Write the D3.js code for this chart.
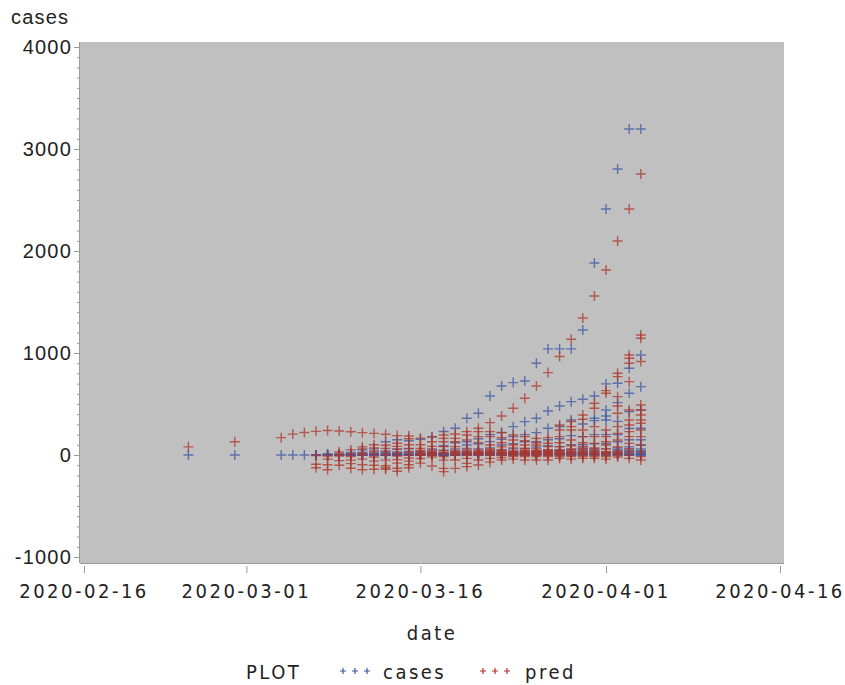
<!DOCTYPE html>
<html>
<head>
<meta charset="utf-8">
<script src="https://cdn.jsdelivr.net/npm/d3@7"></script>
<style>
body { margin: 0; background: #fff; }
svg { display: block; }
.ylab { font-family: "Liberation Sans", Arial, sans-serif; font-size: 20px; letter-spacing: 1.2px; fill: #222; }
.nar { font-family: "Liberation Sans Narrow", "DejaVu Sans Condensed", sans-serif; font-size: 20px; letter-spacing: 2.5px; fill: #222; }
</style>
</head>
<body>
<svg id="chart" width="845" height="685"></svg>
<script>
// one list of values per date, cases (blue) and pred (red)
var dates = ["2020-02-25","2020-02-29","2020-03-04","2020-03-05","2020-03-06","2020-03-07","2020-03-08",
  "2020-03-09","2020-03-10","2020-03-11","2020-03-12","2020-03-13","2020-03-14","2020-03-15","2020-03-16",
  "2020-03-17","2020-03-18","2020-03-19","2020-03-20","2020-03-21","2020-03-22","2020-03-23","2020-03-24",
  "2020-03-25","2020-03-26","2020-03-27","2020-03-28","2020-03-29","2020-03-30","2020-03-31","2020-04-01",
  "2020-04-02","2020-04-03","2020-04-04"];

var casesByDate = [
  [0],[0],[0],[0],[0],
  [0,0,0,0],
  [0,5,0,10,0],
  [0,10,0,5,0,0],
  [0,25,0,10,0,5,0],
  [0,50,25,0,10,5,0,0],
  [0,60,30,15,5,0,0,0,10],
  [0,130,40,20,10,5,0,0,0],
  [0,150,60,30,15,5,0,0,0,10],
  [0,140,60,35,20,10,5,0,0,0],
  [0,155,35,15,5,0,0,0,10,20],
  [0,180,60,30,15,5,0,0,10,25,0],
  [0,230,90,45,25,10,5,0,0,15,0],
  [0,262,120,60,30,15,5,0,0,0,20],
  [360,130,98,50,30,15,5,0,0,0,10,20],
  [409,160,108,60,30,15,5,0,0,0,10,25],
  [579,200,131,70,40,20,10,5,0,0,0,15,30],
  [677,220,154,98,50,30,15,5,0,0,0,20,10],
  [710,278,180,110,60,35,20,10,5,0,0,15,25],
  [725,327,200,130,65,40,25,10,5,0,0,15,30,10],
  [899,360,219,130,80,45,25,15,5,0,0,20,10,35],
  [1040,432,262,150,90,50,30,15,5,0,0,20,10,35],
  [1040,481,280,160,82,50,30,15,5,0,0,20,10,40],
  [1040,523,343,190,100,55,30,15,5,0,0,20,10,40],
  [1226,546,304,180,100,60,35,15,5,0,0,20,10,40,70],
  [1882,579,360,337,200,110,60,35,15,5,0,0,20,45],
  [2412,697,441,383,343,200,110,60,30,15,5,0,0,20],
  [2804,703,513,330,200,130,70,40,20,10,5,0,0,30,55],
  [3196,850,605,425,260,150,80,45,20,10,5,0,0,30,60],
  [3196,981,670,441,262,150,98,60,33,15,5,0,0,20,45]
];

var predByDate = [
  [80],[130],[170],[205],[220],
  [232,-5,-90,-125],
  [240,-10,-40,-95,-145],
  [235,30,-10,-55,-100,5],
  [228,50,10,-15,-50,-85,-130],
  [219,80,60,20,0,-40,-95,-145],
  [212,100,70,40,10,-20,-60,-100,-140],
  [203,95,65,30,0,-50,-105,-125,-140],
  [190,115,85,55,20,-10,-45,-80,-130,-160],
  [186,160,100,65,30,0,-30,-60,-95,-125],
  [165,100,65,30,0,-35,-80,15,45,5],
  [175,130,85,50,25,0,-20,-108,10,40,5],
  [196,163,130,82,45,15,-15,-50,-131,-163,25],
  [206,163,130,82,33,0,-49,-131,10,20,45],
  [229,196,147,65,33,10,0,-33,-82,-114,20,40],
  [262,229,180,120,49,25,0,-49,-98,10,35,15],
  [317,229,180,98,60,49,16,0,-33,-70,25,10,40],
  [383,219,170,120,80,49,20,0,-25,-49,30,10,40],
  [458,196,147,98,70,33,20,5,0,-16,-40,40,25],
  [556,180,140,98,65,40,20,5,0,-16,-49,30,15,50],
  [677,163,120,98,65,35,20,5,0,-16,-49,30,15,45],
  [808,170,115,82,50,30,15,5,0,-16,-49,35,20,45],
  [965,294,245,180,120,82,49,16,0,-16,-33,30,10,40],
  [1135,327,278,245,147,90,50,33,15,0,-16,-40,25,60],
  [1343,392,350,245,180,120,82,50,33,15,0,-16,-33,25,60],
  [1559,507,458,278,180,114,70,40,16,0,-16,-33,25,60],
  [1814,631,605,245,180,130,98,60,33,15,0,-16,-40,25],
  [2098,801,768,572,481,409,278,212,147,80,40,16,0,-20,25],
  [2412,981,948,899,719,441,343,294,229,180,114,60,33,0,-33],
  [2755,1177,1145,916,490,441,392,343,311,245,180,98,33,-16,-49]
];

var yTicks = [-1000, 0, 1000, 2000, 3000, 4000];
var xTicks = ["2020-02-16","2020-03-01","2020-03-16","2020-04-01","2020-04-16"];

var parse = d3.timeParse("%Y-%m-%d");
var fmt = d3.timeFormat("%Y-%m-%d");

var blue = "#3b55a4", red = "#ad362a";
var svg = d3.select("#chart");

var plot = {left: 80, right: 784, top: 42, bottom: 563};

var x = d3.scaleTime()
    .domain([parse("2020-02-16"), parse("2020-04-16")])
    .range([84, 780]);
var y = d3.scaleLinear().domain([-1000, 4000]).range([557, 47]);

svg.append("rect")
    .attr("x", plot.left).attr("y", plot.top)
    .attr("width", plot.right - plot.left).attr("height", plot.bottom - plot.top)
    .attr("fill", "#c0c0c0");

// y axis with minor ticks
var minor = d3.range(-1000, 4001, 100);
svg.append("g").selectAll("line").data(minor).enter().append("line")
    .attr("x1", plot.left).attr("x2", function(d) { return d % 1000 == 0 ? plot.left - 6 : plot.left - 3; })
    .attr("y1", function(d) { return y(d) + 0.5; }).attr("y2", function(d) { return y(d) + 0.5; })
    .attr("stroke", "#9a9a9a").attr("stroke-width", 1);
svg.append("line").attr("x1", plot.left - 0.5).attr("x2", plot.left - 0.5)
    .attr("y1", plot.top).attr("y2", plot.bottom).attr("stroke", "#9a9a9a");
svg.append("g").selectAll("text").data(yTicks).enter().append("text")
    .attr("class", "ylab")
    .attr("x", 72).attr("y", function(d) { return y(d) + 7; })
    .attr("text-anchor", "end")
    .text(function(d) { return d; });
svg.append("text").attr("class", "ylab").attr("x", 11).attr("y", 24).text("cases");

// x axis
svg.append("line").attr("x1", plot.left).attr("x2", plot.right)
    .attr("y1", plot.bottom + 0.5).attr("y2", plot.bottom + 0.5).attr("stroke", "#9a9a9a");
svg.append("g").selectAll("line").data(xTicks).enter().append("line")
    .attr("x1", function(d) { return x(parse(d)) + 0.5; }).attr("x2", function(d) { return x(parse(d)) + 0.5; })
    .attr("y1", plot.bottom + 3).attr("y2", plot.bottom + 10)
    .attr("stroke", "#9a9a9a");
svg.append("g").selectAll("text").data(xTicks).enter().append("text")
    .attr("class", "nar")
    .attr("x", function(d) { return x(parse(d)); }).attr("y", 598)
    .attr("text-anchor", "middle")
    .text(function(d) { return fmt(parse(d)); });
svg.append("text").attr("class", "nar").attr("x", 432).attr("y", 640)
    .attr("text-anchor", "middle").text("date");

// markers
var plus = "M-5,0H5M0,-5V5";
function points(lists, color) {
  var pts = [];
  lists.forEach(function(vals, i) {
    vals.forEach(function(v) { pts.push({date: parse(dates[i]), v: v}); });
  });
  svg.append("g").selectAll("path").data(pts).enter().append("path")
      .attr("d", plus)
      .attr("transform", function(d) { return "translate(" + x(d.date) + "," + y(d.v) + ")"; })
      .attr("fill", "none")
      .attr("stroke", color)
      .attr("stroke-width", 1.4)
      .attr("stroke-opacity", 0.75);
}
points(casesByDate, blue);
points(predByDate, red);

// legend
var leg = svg.append("g");
leg.append("text").attr("class", "nar").attr("x", 246).attr("y", 679).text("PLOT");
var small = "M-3,0H3M0,-3V3";
[[343, blue], [355, blue], [367, blue], [483, red], [495, red], [507, red]].forEach(function(m) {
  leg.append("path").attr("d", small).attr("transform", "translate(" + m[0] + ",671)")
     .attr("fill", "none").attr("stroke", m[1]).attr("stroke-width", 1.2);
});
leg.append("text").attr("class", "nar").attr("x", 383).attr("y", 679).text("cases");
leg.append("text").attr("class", "nar").attr("x", 525).attr("y", 679).text("pred");
</script>
</body>
</html>
